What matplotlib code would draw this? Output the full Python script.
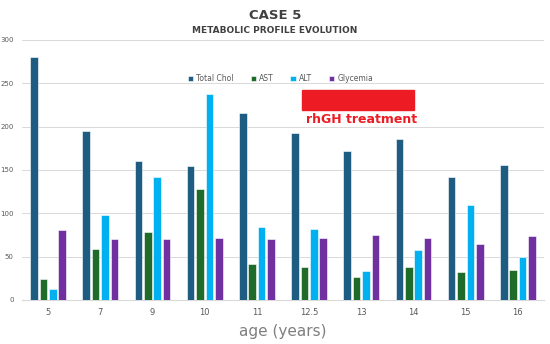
import matplotlib.pyplot as plt
import numpy as np

# data
ages = ['5', '7', '9', '10', '11', '12.5', '13', '14', '15', '16']
total_chol = [280, 195, 160, 154, 216, 193, 172, 186, 142, 156]
ast = [24, 59, 78, 128, 42, 38, 27, 38, 32, 35]
alt = [13, 98, 142, 238, 84, 82, 33, 58, 109, 50]
glycemia = [81, 70, 70, 71, 70, 71, 75, 72, 64, 74]

series = [('Total Chol', total_chol, '#1f5c82'),
          ('AST', ast, '#1e6b2a'),
          ('ALT', alt, '#00b0f0'),
          ('Glycemia', glycemia, '#7030a0')]

fig = plt.figure(figsize=(5.5, 3.44), dpi=100)
ax = fig.add_axes([0.04, 0.128, 0.949, 0.756])

x = np.arange(len(ages))
step = 0.18
width = 0.145
for i, (name, vals, col) in enumerate(series):
    ax.bar(x + (i - 1.5) * step, vals, width, color=col, label=name,
           edgecolor='white', linewidth=0.4, zorder=3)

ax.set_xlim(-0.5, len(ages) - 0.5)
ax.set_ylim(0, 300)
ax.set_yticks(range(0, 301, 50))
ax.set_xticks(x)
ax.set_xticklabels(ages)
ax.tick_params(axis='both', length=0, colors='#595959')
ax.tick_params(axis='y', labelsize=5, pad=6)
ax.tick_params(axis='x', labelsize=6, pad=6)
ax.grid(axis='y', color='#d9d9d9', linewidth=0.7, zorder=0)
for s in ['top', 'right', 'left']:
    ax.spines[s].set_visible(False)
ax.spines['bottom'].set_color('#d9d9d9')

ax.set_xlabel('age (years)', fontsize=11, color='#7f7f7f', labelpad=5)

ax.legend(loc='upper center', bbox_to_anchor=(0.495, 0.895), ncol=4,
          frameon=False, fontsize=5.5, handlelength=0.7, handleheight=0.7,
          columnspacing=2.2, handletextpad=0.4, labelcolor='#595959')

# treatment marker (x in axes fraction, y in data units)
trans = ax.get_yaxis_transform()
ax.add_patch(plt.Rectangle((0.536, 219), 0.215, 23, color='#ed1c24',
                           transform=trans, zorder=4))
ax.text(0.651, 208, 'rhGH treatment', color='#ed1c24', fontsize=9,
        fontweight='bold', ha='center', va='center',
        transform=trans, zorder=4)

fig.text(0.5, 0.975, 'CASE 5', ha='center', va='top', fontsize=9.5,
         fontweight='bold', color='#404040')
fig.text(0.5, 0.925, 'METABOLIC PROFILE EVOLUTION', ha='center', va='top',
         fontsize=6.5, fontweight='bold', color='#404040')

fig.savefig('out.png', dpi=100)
